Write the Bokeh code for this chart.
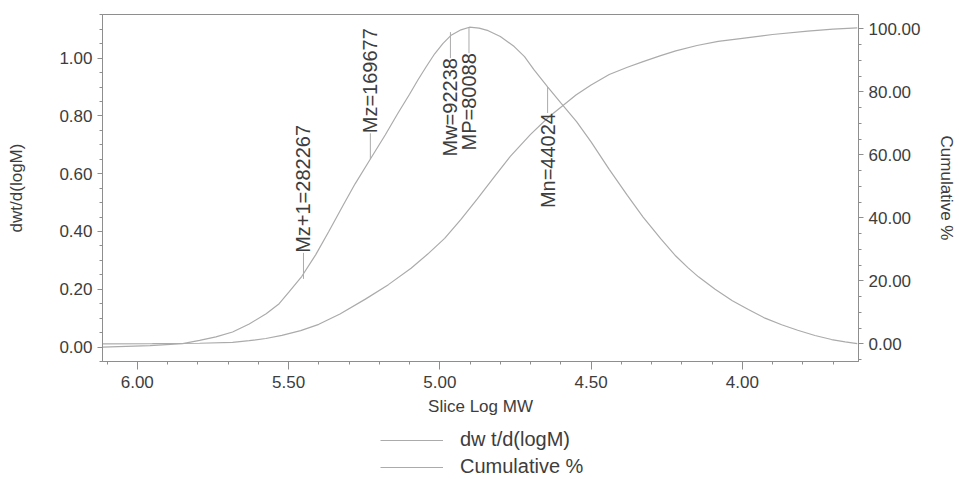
import numpy as np
from bokeh.plotting import figure
from bokeh.layouts import column
from bokeh.models import (Range1d, LinearAxis, SingleIntervalTicker, NumeralTickFormatter,
                          Legend, LegendItem)
from bokeh.embed import file_html
from bokeh.resources import INLINE
from bokeh.core.properties import value

# ---- data ----
dwt_logm = [6.115, 5.958, 5.850, 5.794, 5.740, 5.685, 5.630, 5.574, 5.531, 5.499, 5.456,
            5.410, 5.367, 5.320, 5.280, 5.230, 5.180, 5.138, 5.100, 5.072, 5.045, 5.017,
            4.990, 4.964, 4.930, 4.902, 4.870, 4.840, 4.800, 4.754, 4.720, 4.689, 4.643,
            4.600, 4.548, 4.500, 4.440, 4.380, 4.328, 4.270, 4.220, 4.180, 4.145, 4.090,
            4.033, 3.980, 3.925, 3.870, 3.817, 3.760, 3.705, 3.660, 3.620]
dwt_vals = [0.000, 0.005, 0.012, 0.023, 0.035, 0.052, 0.080, 0.115, 0.150, 0.190, 0.245,
            0.320, 0.400, 0.490, 0.565, 0.650, 0.735, 0.810, 0.875, 0.925, 0.970, 1.015,
            1.050, 1.078, 1.098, 1.107, 1.104, 1.095, 1.075, 1.040, 1.005, 0.960, 0.900,
            0.845, 0.780, 0.710, 0.615, 0.525, 0.450, 0.375, 0.315, 0.275, 0.243, 0.200,
            0.160, 0.130, 0.100, 0.077, 0.058, 0.040, 0.026, 0.018, 0.012]

cum_logm = [6.115, 5.950, 5.794, 5.685, 5.630, 5.575, 5.522, 5.460, 5.400, 5.330, 5.246,
            5.170, 5.095, 5.040, 4.984, 4.930, 4.876, 4.820, 4.767, 4.700, 4.640, 4.604,
            4.550, 4.500, 4.440, 4.380, 4.328, 4.270, 4.220, 4.150, 4.080, 4.000, 3.900,
            3.784, 3.700, 3.620]
cum_vals = [0.0, 0.05, 0.2, 0.5, 1.0, 1.7, 2.7, 4.2, 6.2, 9.5, 14.2,
            18.8, 24.0, 28.5, 33.5, 39.5, 46.0, 53.0, 59.5, 66.5, 72.0, 74.8,
            79.0, 82.2, 85.5, 87.8, 89.6, 91.5, 93.0, 94.7, 96.0, 97.0, 98.2,
            99.3, 99.9, 100.3]

marker_labels = ["Mz+1=282267", "Mz=169677", "Mw=92238", "MP=80088", "Mn=44024"]
marker_mw = [282267, 169677, 92238, 80088, 44024]
marker_curve = [0.236, 0.650, 1.090, 1.107, 0.900]
marker_up = [True, True, False, False, False]

x_title = "Slice Log MW"
y_title = "dwt/d(logM)"
y2_title = "Cumulative %"
legend_labels = ["dw t/d(logM)", "Cumulative %"]

# ---- styling ----
FONT = "Liberation Sans"
TXT = "#3d3d3d"
CURVE = "#ababab"
AX = "#8e8e8e"

p = figure(width=959, height=423, output_backend="svg", toolbar_location=None,
           x_range=Range1d(6.115, 3.616), y_range=Range1d(-0.05, 1.151),
           min_border_left=102, min_border_right=96, min_border_top=14, min_border_bottom=62)
p.extra_y_ranges = {"cum": Range1d(-5.6, 104.55)}
p.grid.visible = False
p.outline_line_color = AX
p.outline_line_width = 1
p.background_fill_color = "white"
p.border_fill_color = "white"

line_style = dict(line_color=CURVE, line_width=1.2)
r1 = p.line(dwt_logm, dwt_vals, **line_style)
r2 = p.line(cum_logm, cum_vals, y_range_name="cum", **line_style)

def style_axis(ax):
    ax.axis_line_color = AX
    ax.major_tick_line_color = AX
    ax.minor_tick_line_color = AX
    ax.major_tick_in = 0
    ax.major_tick_out = 5
    ax.minor_tick_in = 0
    ax.minor_tick_out = 3
    ax.major_label_text_font = FONT
    ax.major_label_text_font_size = "17px"
    ax.major_label_text_color = TXT
    ax.axis_label_text_font = FONT
    ax.axis_label_text_font_size = "17px"
    ax.axis_label_text_font_style = "normal"
    ax.axis_label_text_color = TXT
    ax.major_label_standoff = 5

xa = p.xaxis[0]
xa.ticker = SingleIntervalTicker(interval=0.5, num_minor_ticks=5)
xa.formatter = NumeralTickFormatter(format="0.00")
xa.axis_label = x_title
style_axis(xa)
xa.major_tick_out = 8
xa.major_label_standoff = 6
xa.axis_label_standoff = 6

ya = p.yaxis[0]
ya.ticker = SingleIntervalTicker(interval=0.2, num_minor_ticks=4)
ya.formatter = NumeralTickFormatter(format="0.00")
ya.axis_label = y_title
style_axis(ya)
ya.axis_label_standoff = 30

ra = LinearAxis(y_range_name="cum", axis_label=y2_title,
                ticker=SingleIntervalTicker(interval=20, num_minor_ticks=4),
                formatter=NumeralTickFormatter(format="0.00"))
style_axis(ra)
ra.axis_label_standoff = 14
p.add_layout(ra, "right")

# ---- molecular weight markers ----
mlog = list(np.log10(marker_mw))
gap = 0.09
up_x, up_y0, up_y1, up_t = [], [], [], []
dn_x, dn_y0, dn_y1, dn_t = [], [], [], []
for lab, x, y, up in zip(marker_labels, mlog, marker_curve, marker_up):
    if up:
        up_x.append(x); up_y0.append(y); up_y1.append(y + gap); up_t.append(lab)
    else:
        dn_x.append(x); dn_y0.append(y); dn_y1.append(y - gap); dn_t.append(lab)

p.segment(up_x, up_y0, up_x, up_y1, line_color=CURVE, line_width=1)
p.segment(dn_x, dn_y0, dn_x, dn_y1, line_color=CURVE, line_width=1)
p.text(up_x, up_y1, text=up_t, angle=np.pi / 2, text_align="left", text_baseline="middle",
       text_font=value(FONT), text_font_size="20px", text_color=TXT)
p.text(dn_x, dn_y1, text=dn_t, angle=np.pi / 2, text_align="right", text_baseline="middle",
       text_font=value(FONT), text_font_size="20px", text_color=TXT)

# ---- legend strip below the chart (its frame is aligned with the chart's frame) ----
p2 = figure(width=959, height=56, output_backend="svg", toolbar_location=None,
            x_range=Range1d(0, 1), y_range=Range1d(0, 1),
            min_border=0, min_border_left=0, min_border_right=0,
            min_border_top=0, min_border_bottom=0)
p2.axis.visible = False
p2.grid.visible = False
p2.outline_line_color = None
p2.border_fill_color = "white"
# same series drawn off-range (invisible) only to provide the legend samples
l1 = p2.line(dwt_logm, dwt_vals, **line_style)
l2 = p2.line(cum_logm, cum_vals, **line_style)
legend = Legend(items=[LegendItem(label=legend_labels[0], renderers=[l1]),
                       LegendItem(label=legend_labels[1], renderers=[l2])],
                location=(278, 1), orientation="vertical",
                glyph_width=63, glyph_height=20, label_height=20, label_standoff=17,
                spacing=4, padding=0, margin=0,
                label_text_font=FONT, label_text_font_size="20px", label_text_color=TXT,
                border_line_color=None, background_fill_alpha=0)
p2.add_layout(legend, "center")

open("out.html", "w").write(file_html(column(p, p2, spacing=0), INLINE))
